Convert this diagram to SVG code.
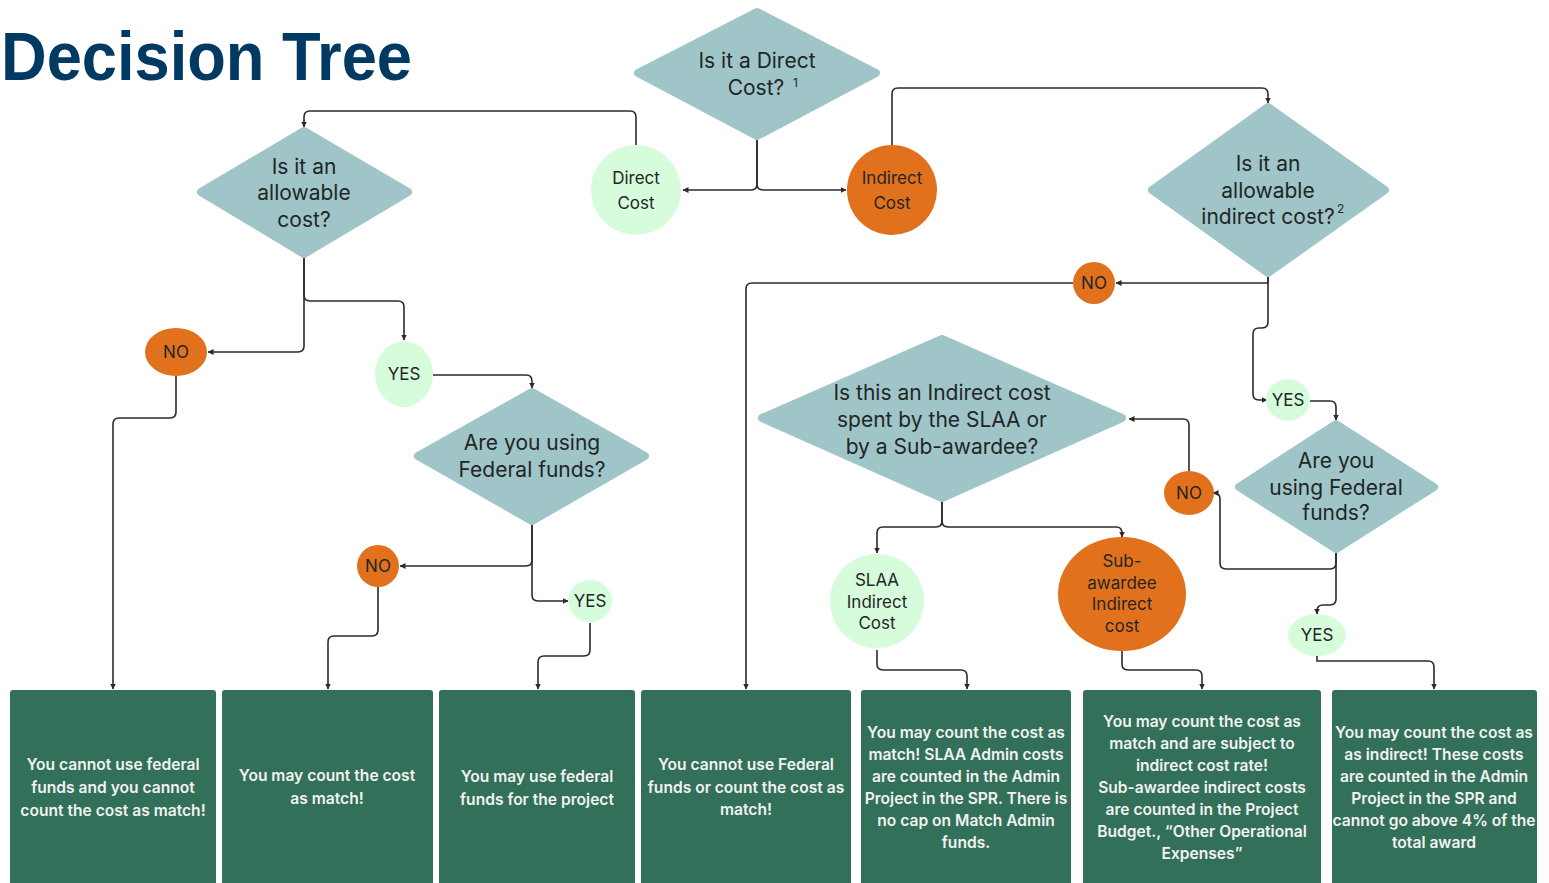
<svg xmlns="http://www.w3.org/2000/svg" width="1549" height="883" viewBox="0 0 1549 883">
  <style>
    .title { font-family: "Liberation Sans", Arial, sans-serif; font-weight: 700; font-size: 68px; fill: #003a63; }
    .diamond { fill: #9fc5c9; stroke: #9fc5c9; stroke-width: 8; stroke-linejoin: round; }
    .yes { fill: #d6fcdc; }
    .no { fill: #e2711d; }
    .result { fill: #33705a; }
    .q { font-family: Inter, "Noto Sans", sans-serif; font-size: 21px; fill: #1f2626; text-anchor: middle; }
    .lbl { font-family: Inter, "Noto Sans", sans-serif; font-size: 17px; fill: #1f2626; text-anchor: middle; }
    .sup { font-family: Inter, "Noto Sans", sans-serif; font-size: 12px; fill: #1f2626; }
    .res { font-family: Inter, "Noto Sans", sans-serif; font-size: 15.6px; font-weight: 600; fill: #f2f2f2; text-anchor: middle; }
    .wire { fill: none; stroke: #2b2b2b; stroke-width: 1.6; }
  </style>
  <defs>
    <marker id="arrow" viewBox="0 0 6 6" refX="5.5" refY="3" markerWidth="6" markerHeight="6" markerUnits="userSpaceOnUse" orient="auto">
      <path d="M0,0 L6,3 L0,6 z" fill="#2b2b2b"/>
    </marker>
  </defs>

  <rect width="1549" height="883" fill="#ffffff"/>

  <text class="title" x="1" y="80" textLength="411" lengthAdjust="spacingAndGlyphs">Decision Tree</text>

  <!-- connectors -->
  <g id="connectors" class="wire" marker-end="url(#arrow)">
    <path d="M757,140 V184 Q757,190 751,190 H683"/>
    <path d="M757,140 V184 Q757,190 763,190 H846"/>
    <path d="M636,145 V117 Q636,111 630,111 H310 Q304,111 304,117 V127"/>
    <path d="M304,258 V346 Q304,352 298,352 H208"/>
    <path d="M304,258 V295 Q304,301 310,301 H398 Q404,301 404,307 V340"/>
    <path d="M176,376 V412 Q176,418 170,418 H119 Q113,418 113,424 V689"/>
    <path d="M433,375 H526 Q532,375 532,381 V388"/>
    <path d="M532,525 V560 Q532,566 526,566 H400"/>
    <path d="M532,525 V595 Q532,601 538,601 H568"/>
    <path d="M378,587 V630 Q378,636 372,636 H334 Q328,636 328,642 V689"/>
    <path d="M590,623 V650 Q590,656 584,656 H544 Q538,656 538,662 V689"/>
    <path d="M892,145 V94 Q892,88 898,88 H1262 Q1268,88 1268,94 V103"/>
    <path d="M1268,277 V283 H1116"/>
    <path d="M1268,277 V322 Q1268,328 1262,328 H1259 Q1253,328 1253,334 V394 Q1253,400 1259,400 H1267"/>
    <path d="M1073,283 H752 Q746,283 746,289 V689"/>
    <path d="M1310,401 H1330 Q1336,401 1336,407 V420"/>
    <path d="M1336,553 V563 Q1336,569 1330,569 H1226 Q1220,569 1220,563 V499 Q1220,493 1214,493 H1213"/>
    <path d="M1336,553 V599 Q1336,605 1330,605 H1323 Q1317,605 1317,611 V614"/>
    <path d="M1189,471 V425 Q1189,419 1183,419 H1129"/>
    <path d="M1317,656 V661 H1428 Q1434,661 1434,667 V689"/>
    <path d="M942,502 V521 Q942,527 936,527 H883 Q877,527 877,533 V553"/>
    <path d="M942,502 V521 Q942,527 948,527 H1116 Q1122,527 1122,533 V537"/>
    <path d="M877,650 V664 Q877,670 883,670 H961 Q967,670 967,676 V689"/>
    <path d="M1122,651 V664 Q1122,670 1128,670 H1196 Q1202,670 1202,676 V689"/>
  </g>

  <!-- question diamonds -->
  <g id="q-direct">
    <polygon class="diamond" points="757,12 876,73 757,136 638,73"/>
    <text class="q" x="757" y="68">Is it a Direct</text>
    <text class="q" x="756" y="95">Cost?</text>
    <text class="sup" x="793" y="87">1</text>
  </g>
  <g id="q-allowable">
    <polygon class="diamond" points="304,131 408,192 304,254 201,192"/>
    <text class="q" x="304" y="174">Is it an</text>
    <text class="q" x="304" y="200">allowable</text>
    <text class="q" x="304" y="227">cost?</text>
  </g>
  <g id="q-federal-left">
    <polygon class="diamond" points="532,392 645,456 532,521 418,456"/>
    <text class="q" x="532" y="450">Are you using</text>
    <text class="q" x="532" y="477">Federal funds?</text>
  </g>
  <g id="q-allowable-indirect">
    <polygon class="diamond" points="1268,107 1385,190 1268,273 1152,190"/>
    <text class="q" x="1268" y="171">Is it an</text>
    <text class="q" x="1268" y="198">allowable</text>
    <text class="q" x="1268" y="224">indirect cost?</text>
    <text class="sup" x="1337" y="213">2</text>
  </g>
  <g id="q-who-spent">
    <polygon class="diamond" points="942,339 1122,418 942,498 762,418"/>
    <text class="q" x="942" y="400">Is this an Indirect cost</text>
    <text class="q" x="942" y="427">spent by the SLAA or</text>
    <text class="q" x="942" y="454">by a Sub-awardee?</text>
  </g>
  <g id="q-federal-right">
    <polygon class="diamond" points="1336,424 1434,487 1336,549 1239,487"/>
    <text class="q" x="1336" y="468">Are you</text>
    <text class="q" x="1336" y="495">using Federal</text>
    <text class="q" x="1336" y="520">funds?</text>
  </g>

  <!-- cost type circles -->
  <g id="direct-cost">
    <circle class="yes" cx="636" cy="190" r="45"/>
    <text class="lbl" x="636" y="184">Direct</text>
    <text class="lbl" x="636" y="209">Cost</text>
  </g>
  <g id="indirect-cost">
    <circle class="no" cx="892" cy="190" r="45"/>
    <text class="lbl" x="892" y="184">Indirect</text>
    <text class="lbl" x="892" y="209">Cost</text>
  </g>
  <g id="slaa-indirect">
    <circle class="yes" cx="877" cy="601" r="47"/>
    <text class="lbl" x="877" y="586">SLAA</text>
    <text class="lbl" x="877" y="608">Indirect</text>
    <text class="lbl" x="877" y="629">Cost</text>
  </g>
  <g id="subawardee-indirect">
    <ellipse class="no" cx="1122" cy="594" rx="64" ry="57"/>
    <text class="lbl" x="1122" y="567">Sub-</text>
    <text class="lbl" x="1122" y="589">awardee</text>
    <text class="lbl" x="1122" y="610">Indirect</text>
    <text class="lbl" x="1122" y="632">cost</text>
  </g>

  <!-- yes / no answers -->
  <g id="no-allowable">
    <ellipse class="no" cx="176" cy="352" rx="31" ry="24"/>
    <text class="lbl" x="176" y="358">NO</text>
  </g>
  <g id="yes-allowable">
    <ellipse class="yes" cx="404" cy="374" rx="29" ry="33"/>
    <text class="lbl" x="404" y="380">YES</text>
  </g>
  <g id="no-federal-left">
    <circle class="no" cx="378" cy="566" r="21"/>
    <text class="lbl" x="378" y="572">NO</text>
  </g>
  <g id="yes-federal-left">
    <ellipse class="yes" cx="590" cy="601" rx="22" ry="21"/>
    <text class="lbl" x="590" y="607">YES</text>
  </g>
  <g id="no-indirect">
    <ellipse class="no" cx="1094" cy="283" rx="21" ry="21"/>
    <text class="lbl" x="1094" y="289">NO</text>
  </g>
  <g id="yes-indirect">
    <ellipse class="yes" cx="1288" cy="400" rx="22" ry="21"/>
    <text class="lbl" x="1288" y="406">YES</text>
  </g>
  <g id="no-federal-right">
    <ellipse class="no" cx="1189" cy="493" rx="25" ry="22"/>
    <text class="lbl" x="1189" y="499">NO</text>
  </g>
  <g id="yes-federal-right">
    <ellipse class="yes" cx="1317" cy="635" rx="29" ry="21"/>
    <text class="lbl" x="1317" y="641">YES</text>
  </g>

  <!-- outcome boxes -->
  <g id="out-1">
    <rect class="result" x="10" y="690" width="206" height="200" rx="3"/>
    <text class="res" x="113" y="770">You cannot use federal</text>
    <text class="res" x="113" y="793">funds and you cannot</text>
    <text class="res" x="113" y="816">count the cost as match!</text>
  </g>
  <g id="out-2">
    <rect class="result" x="222" y="690" width="211" height="200" rx="3"/>
    <text class="res" x="327" y="781">You may count the cost</text>
    <text class="res" x="327" y="804">as match!</text>
  </g>
  <g id="out-3">
    <rect class="result" x="439" y="690" width="196" height="200" rx="3"/>
    <text class="res" x="537" y="782">You may use federal</text>
    <text class="res" x="537" y="805">funds for the project</text>
  </g>
  <g id="out-4">
    <rect class="result" x="641" y="690" width="210" height="200" rx="3"/>
    <text class="res" x="746" y="770">You cannot use Federal</text>
    <text class="res" x="746" y="793">funds or count the cost as</text>
    <text class="res" x="746" y="815">match!</text>
  </g>
  <g id="out-5">
    <rect class="result" x="861" y="690" width="210" height="200" rx="3"/>
    <text class="res" x="966" y="738">You may count the cost as</text>
    <text class="res" x="966" y="760">match! SLAA Admin costs</text>
    <text class="res" x="966" y="782">are counted in the Admin</text>
    <text class="res" x="966" y="804">Project in the SPR. There is</text>
    <text class="res" x="966" y="826">no cap on Match Admin</text>
    <text class="res" x="966" y="848">funds.</text>
  </g>
  <g id="out-6">
    <rect class="result" x="1083" y="690" width="238" height="200" rx="3"/>
    <text class="res" x="1202" y="727">You may count the cost as</text>
    <text class="res" x="1202" y="749">match and are subject to</text>
    <text class="res" x="1202" y="771">indirect cost rate!</text>
    <text class="res" x="1202" y="793">Sub-awardee indirect costs</text>
    <text class="res" x="1202" y="815">are counted in the Project</text>
    <text class="res" x="1202" y="837">Budget., “Other Operational</text>
    <text class="res" x="1202" y="859">Expenses”</text>
  </g>
  <g id="out-7">
    <rect class="result" x="1332" y="690" width="205" height="200" rx="3"/>
    <text class="res" x="1434" y="738">You may count the cost as</text>
    <text class="res" x="1434" y="760">as indirect! These costs</text>
    <text class="res" x="1434" y="782">are counted in the Admin</text>
    <text class="res" x="1434" y="804">Project in the SPR and</text>
    <text class="res" x="1434" y="826">cannot go above 4% of the</text>
    <text class="res" x="1434" y="848">total award</text>
  </g>
</svg>
